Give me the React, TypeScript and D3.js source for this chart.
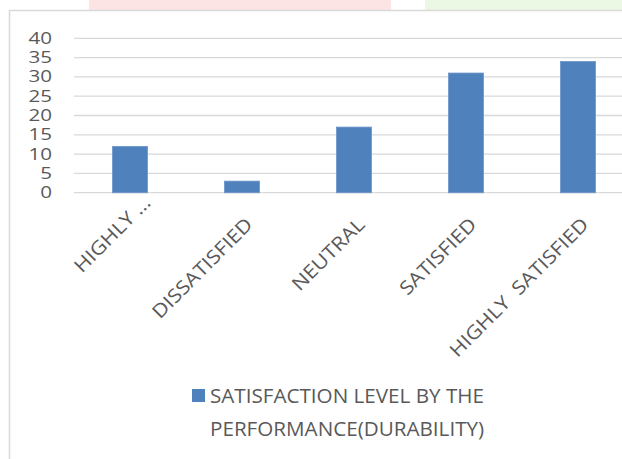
import React from "react";
import * as d3 from "d3";

const categories = ["HIGHLY …", "DISSATISFIED", "NEUTRAL", "SATISFIED", "HIGHLY  SATISFIED"];
const values = [12, 3, 17, 31, 34];
const yTicks = [0, 5, 10, 15, 20, 25, 30, 35, 40];
const legendLines = ["SATISFACTION LEVEL BY THE", "PERFORMANCE(DURABILITY)"];

const W = 622;
const H = 459;
const TEXT = "#595959";
const GRID = "#d9d9d9";
const BAR = "#4f81bd";
const FONT = "'Open Sans', 'Liberation Sans', sans-serif";

export default function App() {
  const x = d3
    .scaleBand<string>()
    .domain(categories)
    .range([74, 634])
    .paddingInner(0.6875)
    .paddingOuter(0.34375);
  const y = d3.scaleLinear().domain([0, 40]).range([192.7, 38.3]);

  return (
    <svg
      width={W}
      height={H}
      style={{ position: "absolute", left: 0, top: 0, background: "#fff" }}
      fontFamily={FONT}
    >
      <rect x={89} y={0} width={302} height={10} fill="#fde4e4" />
      <rect x={425} y={0} width={197} height={10} fill="#ebf8e3" />
      <line x1={9.5} y1={10} x2={9.5} y2={H} stroke={GRID} strokeWidth={1.5} />
      <line x1={9.5} y1={10.5} x2={W} y2={10.5} stroke={GRID} strokeWidth={1.5} />

      {yTicks.map((t) => (
        <g key={t}>
          <line x1={74} x2={W} y1={y(t)} y2={y(t)} stroke={GRID} strokeWidth={1.3} />
          <text
            transform={`translate(52 ${y(t)}) scale(1.33 1)`}
            dy="0.36em"
            textAnchor="end"
            fontSize={15.5}
            fill={TEXT}
          >
            {t}
          </text>
        </g>
      ))}

      {categories.map((c, i) => (
        <rect
          key={c}
          x={x(c)}
          y={y(values[i])}
          width={x.bandwidth()}
          height={y(0) - y(values[i])}
          fill={BAR}
          stroke="#6d95c9"
          strokeWidth={0.8}
        />
      ))}

      {categories.map((c) => {
        const cx = (x(c) as number) + x.bandwidth() / 2 + 7;
        const cy = 221;
        const truncated = c.endsWith("…");
        return (
          <text
            key={c}
            x={truncated ? 20 : 0}
            y={truncated ? -8.5 : 0}
            dy="0.36em"
            textAnchor="end"
            fontSize={19}
            fill={TEXT}
            transform={`translate(${cx} ${cy}) rotate(-45) scale(1.13 1)`}
            style={{ whiteSpace: "pre" }}
          >
            {c}
          </text>
        );
      })}

      <rect x={192} y={389} width={13} height={13} fill={BAR} />
      {legendLines.map((l, i) => (
        <text
          key={l}
          transform={`translate(210 ${403.3 + i * 33}) scale(1.07 1)`}
          fontSize={19.3}
          fill={TEXT}
        >
          {l}
        </text>
      ))}
    </svg>
  );
}
